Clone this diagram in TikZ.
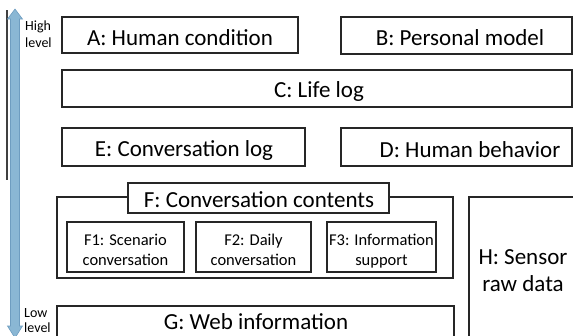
\documentclass[tikz,border=0pt]{standalone}
\usepackage{fontspec}
\setmainfont{Carlito}
\begin{document}
\begin{tikzpicture}[x=1pt,y=-1pt,
  box/.style={draw=black!85,line width=1.3pt},
  big/.style={font=\fontsize{23}{27}\selectfont,anchor=base,inner sep=0pt},
  mid/.style={font=\fontsize{16.5}{20}\selectfont,anchor=base,inner sep=0pt},
  tiny/.style={font=\fontsize{14}{17}\selectfont,anchor=base west,inner sep=0pt},
  lvl/.style={fill=arrowblue,draw=arrowedge,line width=0.6pt}]
\definecolor{arrowblue}{HTML}{8AB7D4}
\definecolor{arrowedge}{HTML}{6E9DC0}
\useasboundingbox (0,0) rectangle (573,335);
\clip (0,0) rectangle (573,335);

% level axis
\draw[black!75,line width=1.1pt] (7,10) -- (7,180);
\path[lvl] (15,9) -- (22.5,19) -- (19.5,19) -- (19.5,326) -- (22.5,326)
  -- (15,338) -- (7.5,326) -- (10.5,326) -- (10.5,19) -- (7.5,19) -- cycle;
\node[tiny] (hi1) at (25,30) {High};
\node[tiny] (hi2) at (25,47) {level};
\node[tiny] (lo1) at (24,317) {Low};
\node[tiny] (lo2) at (24,332) {level};

% top rows
\draw[box] (62,17) rectangle (298,53);
\node[big] (A) at (180,45) {A: Human condition};
\draw[box] (341,17) rectangle (572,54);
\node[big] (B) at (460,45) {B: Personal model};
\draw[box] (62,70) rectangle (572,107);
\node[big] (C) at (319,97) {C: Life log};
\draw[box] (62,128) rectangle (305,166);
\node[big] (E) at (184,156) {E: Conversation log};
\draw[box] (341,128) rectangle (572,166);
\node[big] (D) at (470,157) {D: Human behavior};

% conversation contents group
\draw[box] (128,197) -- (57,197) -- (57,278) -- (453,278) -- (453,197) -- (389,197);
\draw[box] (128,183) rectangle (389,213);
\node[big] (F) at (259,207) {F: Conversation contents};
\draw[box] (67,222) rectangle (184,272);
\node[mid] (F1a) at (125.5,245) {F1: Scenario};
\node[mid] (F1b) at (125.5,265) {conversation};
\draw[box] (196,222) rectangle (311,272);
\node[mid] (F2a) at (253.5,245) {F2: Daily};
\node[mid] (F2b) at (253.5,265) {conversation};
\draw[box] (327,222) rectangle (436,272);
\node[mid] (F3a) at (381.5,245) {F3: Information};
\node[mid] (F3b) at (381.5,265) {support};

% web information and sensor data
\draw[box] (57,306) rectangle (454,350);
\node[big] (G) at (256,329) {G: Web information};
\draw[box] (469,197) rectangle (590,350);
\node[big] (H1) at (523,264) {H: Sensor};
\node[big] (H2) at (523,291) {raw data};
\end{tikzpicture}
\end{document}
